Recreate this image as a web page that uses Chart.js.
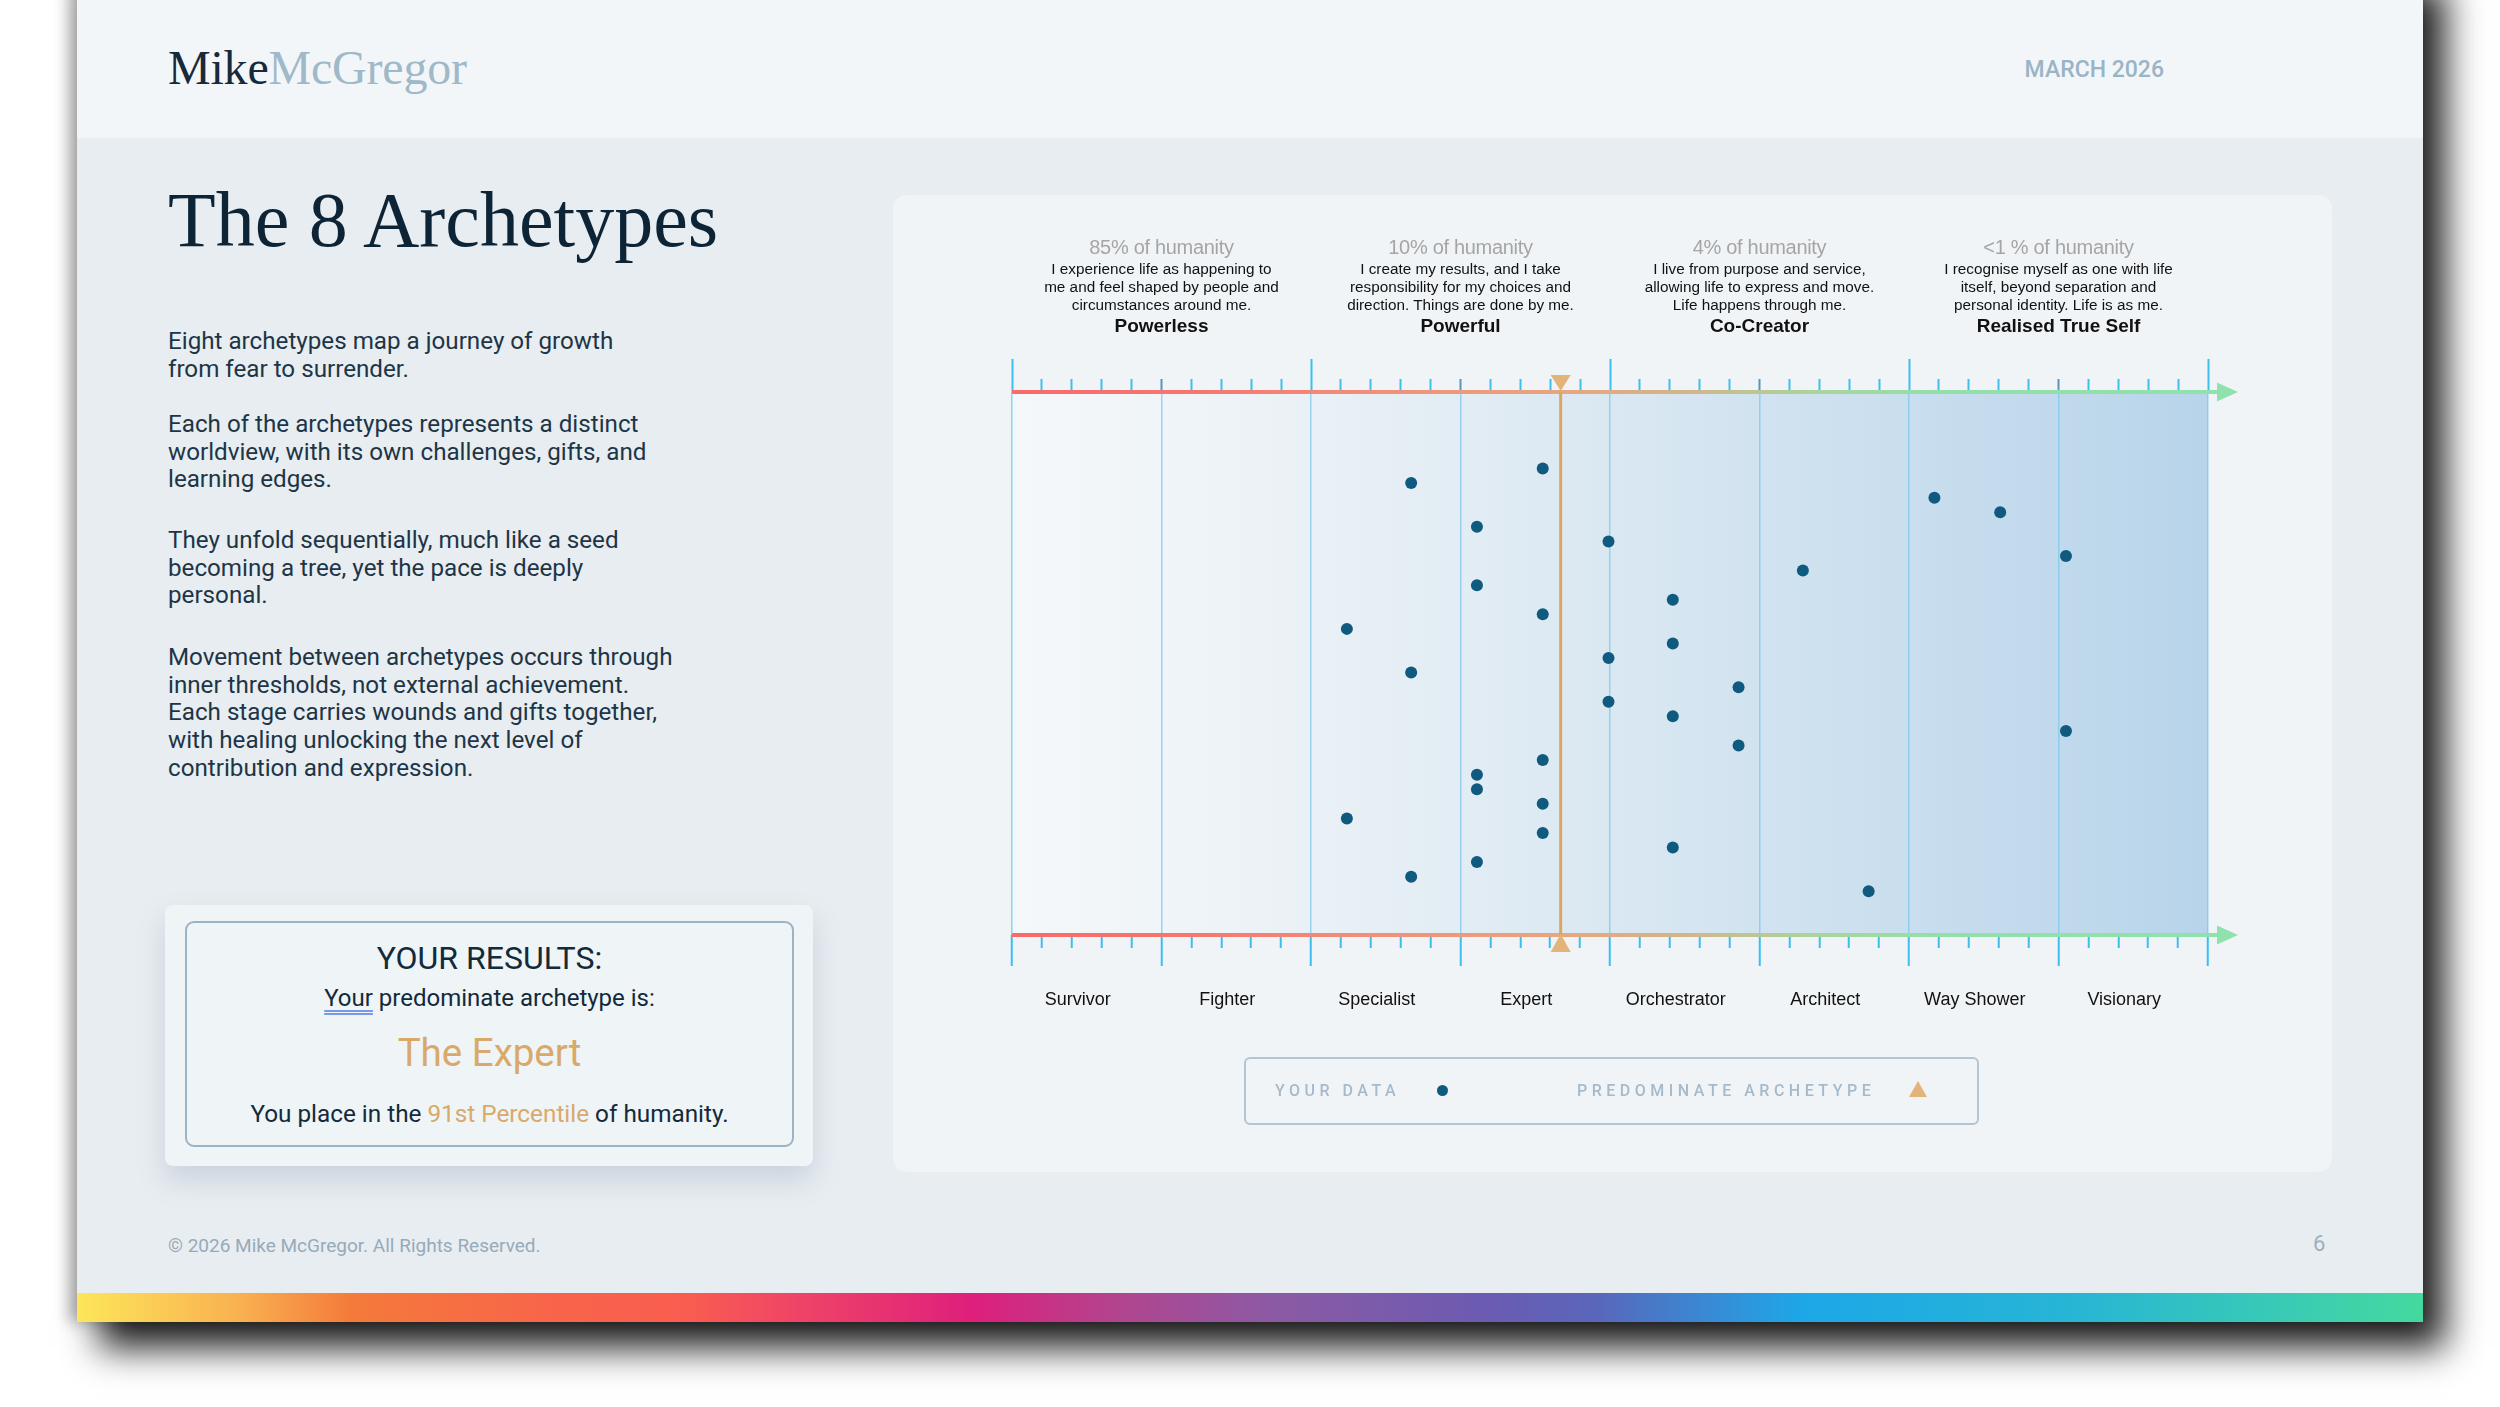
<!DOCTYPE html>
<html lang="en">
<head>
<meta charset="utf-8">
<title>The 8 Archetypes</title>
<script src="https://cdn.jsdelivr.net/npm/chart.js@4.4.1/dist/chart.umd.min.js"></script>
<style>
  html, body { margin: 0; padding: 0; background: #fff; }
  body { width: 2500px; height: 1407px; position: relative; overflow: hidden; font-family: Roboto, "Noto Sans", sans-serif; }
  .abs { position: absolute; }
  .slide { left: 77px; top: -40px; width: 2346px; height: 1362px; background: #e8edf1;
           box-shadow: 22px 26px 34px rgba(0,0,0,0.88), -8px 0 14px rgba(0,0,0,0.3); }
  .band { left: 77px; top: 0; width: 2346px; height: 138px; background: #f3f6f9; }
  .bar { left: 77px; top: 1293px; width: 2346px; height: 29px;
         background: linear-gradient(90deg, #fde65a 0%, #f9b050 7%, #f47a3a 11.7%, #f8654a 20%, #f95d50 26%,
                     #ef4467 30.7%, #de1f7c 38.2%, #b2448e 44.3%, #8c5aa5 51%, #6b5bb1 60%, #5a66bb 64.7%,
                     #1da7e8 73.5%, #27b5d5 85%, #45d99f 100%); }
  .logo { left: 168px; top: 40px; font: 48px/56px "Liberation Serif", serif; letter-spacing: -0.2px; white-space: nowrap; }
  .logo .a { color: #17293a; }
  .logo .b { color: #9fb9c9; }
  .date { right: 336px; top: 58px; font: 500 23px/24px Roboto, sans-serif; color: #9ab4c5; }
  .title { left: 168px; top: 175px; margin: 0; font: 400 78px/90px "Liberation Serif", serif; color: #0d2436; white-space: nowrap; }
  .para { left: 168px; margin: 0; font-size: 24.2px; line-height: 27.7px; color: #1d3546; white-space: nowrap; }
  .resOuter { left: 165px; top: 905px; width: 648px; height: 261px; background: #eff4f7; border-radius: 8px;
              box-shadow: 0 14px 28px rgba(90,120,150,0.22); }
  .resInner { left: 185px; top: 921px; width: 605px; height: 222px; border: 2px solid #9db2c2; border-radius: 9px; }
  .resInner div { position: absolute; left: 0; width: 100%; text-align: center; white-space: nowrap; color: #132a3a; }
  .resInner .gold { color: #d9a96a; }
  .card { left: 893px; top: 195px; width: 1439px; height: 977px; background: #f0f4f7; border-radius: 14px; }
  #chart { position: absolute; left: 0; top: 0; }
  .head { position: absolute; top: 40.7px; width: 340px; transform: translateX(-50%); text-align: center;
          font-family: "Liberation Sans", Arial, sans-serif; white-space: nowrap; }
  .head .share { font-size: 20px; line-height: 22px; color: #a5a5a5; letter-spacing: -0.3px; }
  .head .desc { margin-top: 2px; font-size: 15.3px; line-height: 18px; color: #111; }
  .head .name { margin-top: 1px; font-size: 19px; line-height: 22px; font-weight: bold; color: #111; }
  .legend { left: 351px; top: 862px; width: 731px; height: 64px; border: 2px solid #b3c5d3; border-radius: 6px; }
  .legend .lab { position: absolute; top: 0; font: 500 16px/64px Roboto, sans-serif;
                 letter-spacing: 4.5px; color: #a6bacb; white-space: nowrap; }
  .legend .dot { position: absolute; left: 191px; top: 26px; width: 11px; height: 11px; border-radius: 50%; background: #0f5a7e; }
  .legend .tri { position: absolute; left: 663px; top: 22px; width: 0; height: 0;
                 border-left: 9px solid transparent; border-right: 9px solid transparent; border-bottom: 16px solid #e2b47a; }
  .copy { left: 168px; top: 1234px; font-size: 19px; line-height: 24px; color: #97aaba; white-space: nowrap; }
  .page { left: 2313px; top: 1231px; font-size: 22px; line-height: 26px; color: #9cb0c0; }
</style>
</head>
<body>
<div class="abs slide"></div>
<div class="abs band"></div>
<div class="abs bar"></div>

<div class="abs logo"><span class="a">Mike</span><span class="b">McGregor</span></div>
<div class="abs date">MARCH 2026</div>
<h1 class="abs title">The 8 Archetypes</h1>

<p class="abs para" style="top:328px">Eight archetypes map a journey of growth<br>from fear to surrender.</p>
<p class="abs para" style="top:411px">Each of the archetypes represents a distinct<br>worldview, with its own challenges, gifts, and<br>learning edges.</p>
<p class="abs para" style="top:527px">They unfold sequentially, much like a seed<br>becoming a tree, yet the pace is deeply<br>personal.</p>
<p class="abs para" style="top:644px">Movement between archetypes occurs through<br>inner thresholds, not external achievement.<br>Each stage carries wounds and gifts together,<br>with healing unlocking the next level of<br>contribution and expression.</p>

<div class="abs resOuter"></div>
<div class="abs resInner">
  <div style="top:15px;font-size:32px;line-height:40px;">YOUR RESULTS:</div>
  <div style="top:60px;font-size:24px;line-height:30px;"><span style="text-decoration:underline double #7a9ae6;text-underline-offset:4px;">Your</span> predominate archetype is:</div>
  <div class="gold" style="top:108px;font-size:38.5px;line-height:44px;">The Expert</div>
  <div style="top:176px;font-size:24.3px;line-height:30px;">You place in the <span class="gold">91st Percentile</span> of humanity.</div>
</div>

<div class="abs card" id="card">
  <canvas id="chart" width="1439" height="977"></canvas>
  <div class="abs legend">
    <span class="lab" style="left:29px">YOUR DATA</span>
    <span class="dot"></span>
    <span class="lab" style="left:331px">PREDOMINATE ARCHETYPE</span>
    <span class="tri"></span>
  </div>
</div>

<div class="abs copy">© 2026 Mike McGregor. All Rights Reserved.</div>
<div class="abs page">6</div>

<script>
// archetype bands along the x axis (one unit each)
const archetypes = ['Survivor', 'Fighter', 'Specialist', 'Expert', 'Orchestrator', 'Architect', 'Way Shower', 'Visionary'];

// the four groups, two archetypes wide
const groupShares = ['85% of humanity', '10% of humanity', '4% of humanity', '<1 % of humanity'];
const groupNames = ['Powerless', 'Powerful', 'Co-Creator', 'Realised True Self'];
const groupTexts = [
  ['I experience life as happening to', 'me and feel shaped by people and', 'circumstances around me.'],
  ['I create my results, and I take', 'responsibility for my choices and', 'direction. Things are done by me.'],
  ['I live from purpose and service,', 'allowing life to express and move.', 'Life happens through me.'],
  ['I recognise myself as one with life', 'itself, beyond separation and', 'personal identity. Life is as me.']
];

// one answer per row, top row first
const answerRows = [32, 31, 30, 29, 28, 27, 26, 25, 24, 23, 22, 21, 20, 19, 18, 17,
                    16, 15, 14, 13, 12, 11, 10, 9, 8, 7, 6, 5, 4, 3];
const answerScores = [3.55, 2.67, 6.17, 6.61, 3.11, 3.99, 7.05, 5.29, 3.11, 4.42, 3.55, 2.24, 4.42, 3.99, 2.67, 4.86,
                      3.99, 4.42, 7.05, 4.86, 3.55, 3.11, 3.11, 3.55, 2.24, 3.55, 4.42, 3.11, 2.67, 5.73];

const predominantScore = 3.67;
const rowMax = 37.25;

const isWhole = v => Math.abs(v - Math.round(v)) < 1e-6;

const plotBackdrop = {
  id: 'plotBackdrop',
  beforeDraw(chart) {
    const { ctx, chartArea: a } = chart;
    const g = ctx.createLinearGradient(a.left, 0, a.right, 0);
    g.addColorStop(0, '#f5f8fa');
    g.addColorStop(0.25, '#eaf1f6');
    g.addColorStop(0.5, '#dae8f2');
    g.addColorStop(0.75, '#c9deee');
    g.addColorStop(1, '#b8d4ea');
    ctx.save();
    ctx.fillStyle = g;
    ctx.fillRect(a.left, a.top, a.right - a.left, a.bottom - a.top);
    ctx.restore();
  }
};

const axisRails = {
  id: 'axisRails',
  beforeDatasetsDraw(chart) {
    const { ctx, chartArea: a, scales: { x } } = chart;
    const x0 = x.getPixelForValue(x.min);
    const x1 = x.getPixelForValue(x.max);
    const tip = x1 + 30;
    const g = ctx.createLinearGradient(x0, 0, tip, 0);
    g.addColorStop(0, '#f76b6b');
    g.addColorStop(0.15, '#f6776f');
    g.addColorStop(0.3, '#f38f7a');
    g.addColorStop(0.45, '#e7a67e');
    g.addColorStop(0.55, '#d2b58a');
    g.addColorStop(0.65, '#acd39c');
    g.addColorStop(0.75, '#95deaa');
    g.addColorStop(1, '#8fe2ad');
    ctx.save();
    [a.top, a.bottom].forEach(y => {
      ctx.strokeStyle = g;
      ctx.lineWidth = 4;
      ctx.beginPath();
      ctx.moveTo(x0, y);
      ctx.lineTo(x1 + 10, y);
      ctx.stroke();
      ctx.fillStyle = '#8fe2ad';
      ctx.beginPath();
      ctx.moveTo(x1 + 9, y - 9.5);
      ctx.lineTo(tip, y);
      ctx.lineTo(x1 + 9, y + 9.5);
      ctx.closePath();
      ctx.fill();
    });
    ctx.restore();
  }
};

const predominantMarks = {
  id: 'predominantMarks',
  afterDatasetsDraw(chart) {
    const { ctx, chartArea: a, scales: { x } } = chart;
    const px = x.getPixelForValue(predominantScore);
    ctx.save();
    ctx.fillStyle = '#e2b47a';
    ctx.beginPath();
    ctx.moveTo(px - 10, a.top - 17);
    ctx.lineTo(px + 10, a.top - 17);
    ctx.lineTo(px, a.top - 1);
    ctx.closePath();
    ctx.fill();
    ctx.beginPath();
    ctx.moveTo(px - 10, a.bottom + 17);
    ctx.lineTo(px + 10, a.bottom + 17);
    ctx.lineTo(px, a.bottom - 1);
    ctx.closePath();
    ctx.fill();
    ctx.restore();
  }
};

const chart = new Chart(document.getElementById('chart').getContext('2d'), {
  type: 'scatter',
  data: {
    datasets: [{
      label: 'Your data',
      data: answerScores.map((s, i) => ({ x: s, y: answerRows[i] })),
      pointRadius: 6,
      pointHoverRadius: 6,
      backgroundColor: '#0f5a7e',
      borderWidth: 0,
      order: 1
    }, {
      label: 'Predominate archetype',
      data: [{ x: predominantScore, y: 0 }, { x: predominantScore, y: rowMax }],
      showLine: true,
      borderColor: '#dea55f',
      borderWidth: 3,
      pointRadius: 0,
      order: 2
    }]
  },
  options: {
    responsive: false,
    animation: false,
    layout: { padding: { left: 119, right: 124, top: 164, bottom: 146 } },
    plugins: { legend: { display: false }, tooltip: { enabled: false } },
    scales: {
      xTop: {
        type: 'linear', position: 'top', min: 0, max: 8,
        ticks: { display: false, stepSize: 0.2, autoSkip: false },
        border: { display: false },
        grid: {
          drawOnChartArea: false,
          tickLength: 33,
          tickWidth: 2,
          tickColor: c => (isWhole(c.tick.value) && Math.round(c.tick.value) % 2 === 1) ? '#5496bd' : '#3cbff0',
          tickBorderDash: c => (isWhole(c.tick.value) && Math.round(c.tick.value) % 2 === 0) ? [] : [0, 20, 13, 60]
        },
        afterFit: s => { s.height = 33; }
      },
      x: {
        type: 'linear', position: 'bottom', min: 0, max: 8,
        ticks: { display: false, stepSize: 0.2, autoSkip: false },
        border: { display: false },
        grid: {
          color: c => !isWhole(c.tick.value) ? 'rgba(0,0,0,0)' : (c.tick.value === 0 ? '#86d6f4' : 'rgba(125,200,235,0.75)'),
          lineWidth: 1.5,
          tickLength: 31,
          tickWidth: 2,
          tickColor: '#3cbff0',
          tickBorderDash: c => isWhole(c.tick.value) ? [] : [13, 60]
        },
        afterFit: s => { s.height = 31; }
      },
      xLab: {
        type: 'linear', position: 'bottom', min: 0, max: 8,
        afterBuildTicks: s => { s.ticks = archetypes.map((n, i) => ({ value: i + 0.5 })); },
        ticks: {
          autoSkip: false, maxRotation: 0, padding: 15, labelOffset: -9,
          color: '#111', font: { family: 'Liberation Sans', size: 18 },
          callback: (v, i) => archetypes[i]
        },
        grid: { display: false },
        border: { display: false },
        afterFit: s => { s.height = 60; }
      },
      y: { display: false, min: 0, max: rowMax }
    }
  },
  plugins: [plotBackdrop, axisRails, predominantMarks]
});

// group headings over the chart, centred on each pair of archetypes
const card = document.getElementById('card');
groupNames.forEach((name, k) => {
  const head = document.createElement('div');
  head.className = 'head';
  head.style.left = chart.scales.x.getPixelForValue(2 * k + 1) + 'px';
  const share = document.createElement('div');
  share.className = 'share';
  share.textContent = groupShares[k];
  head.appendChild(share);
  const desc = document.createElement('div');
  desc.className = 'desc';
  groupTexts[k].forEach((line, j) => {
    if (j) desc.appendChild(document.createElement('br'));
    desc.appendChild(document.createTextNode(line));
  });
  head.appendChild(desc);
  const nm = document.createElement('div');
  nm.className = 'name';
  nm.textContent = name;
  head.appendChild(nm);
  card.appendChild(head);
});
</script>
</body>
</html>
